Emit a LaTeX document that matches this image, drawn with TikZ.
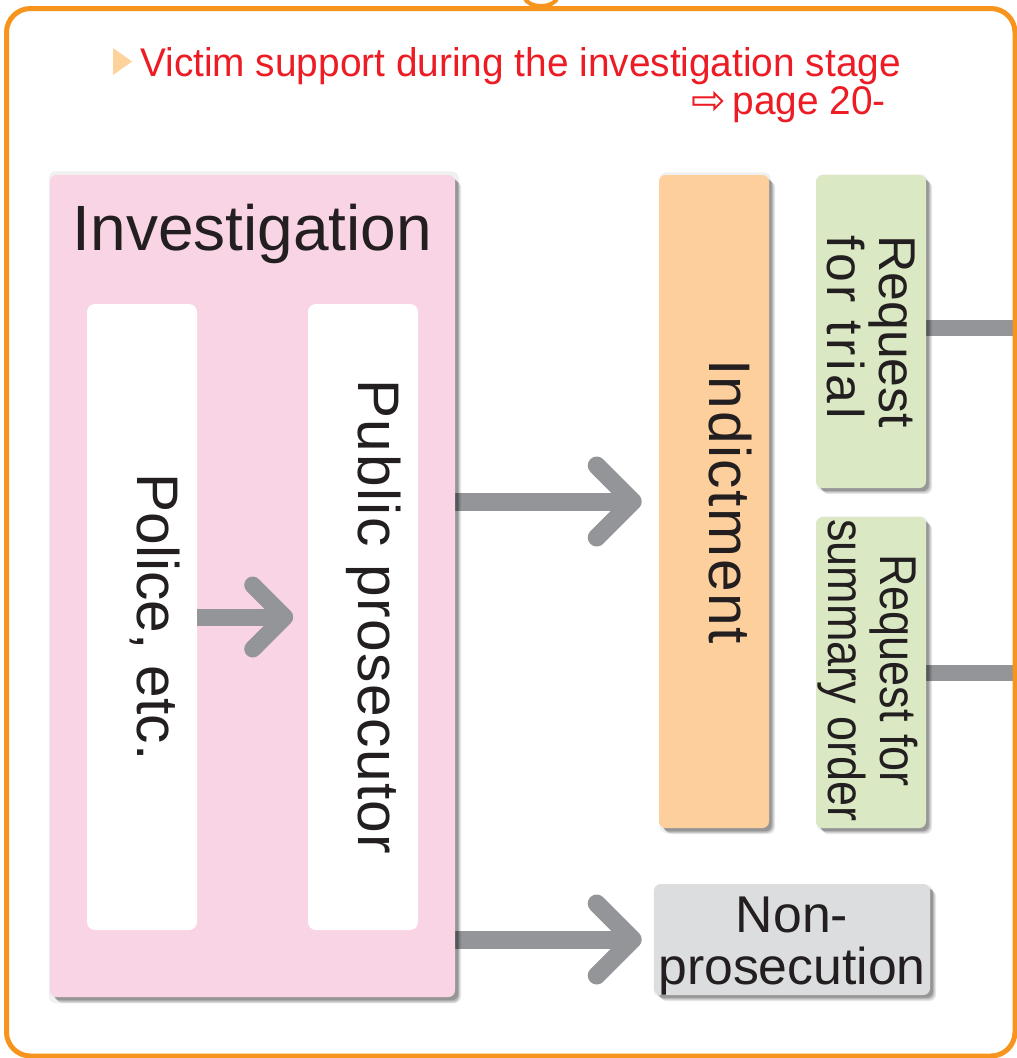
\documentclass[tikz,border=0pt]{standalone}
\usepackage{fontspec}
\setmainfont{Liberation Sans}
\newfontfamily\condfont[FakeStretch=0.97]{Liberation Sans}
\newfontfamily\narrowfont[FakeStretch=0.87]{Liberation Sans}
\newfontfamily\symfont{DejaVu Sans}
\usetikzlibrary{calc,shadows}
\definecolor{pinkbg}{HTML}{F9D4E5}
\definecolor{indorange}{HTML}{FDCF9C}
\definecolor{reqgreen}{HTML}{DAE9C3}
\definecolor{nonpgray}{HTML}{DCDDDE}
\definecolor{arrowgray}{HTML}{939598}
\definecolor{frameorange}{HTML}{F7941E}
\definecolor{hdrred}{HTML}{ED1C24}
\definecolor{trifill}{HTML}{FDD39B}
\definecolor{ink}{HTML}{231F20}
\pgfdeclarelayer{back}
\pgfdeclarelayer{bg}
\pgfsetlayers{back,bg,main}
\newcommand\hugetext{\fontsize{48}{52}\selectfont}
\newcommand\bigtext{\fontsize{44}{48}\selectfont}
\newcommand\midtext{\fontsize{38.8}{39}\selectfont}
\newcommand\hdrtext{\fontsize{30}{34}\selectfont}
\begin{document}
\begin{tikzpicture}[x=0.75pt,y=-0.75pt,
  frame/.style={draw=frameorange, line width=3.75pt, rounded corners=18pt},
  boxshadow/.style={
    drop shadow={shadow xshift=1pt, shadow yshift=-1pt, shadow scale=1.012, fill=black, opacity=0.06},
    drop shadow={shadow xshift=4.5pt, shadow yshift=-4.5pt, fill=black, opacity=0.10},
    drop shadow={shadow xshift=3.5pt, shadow yshift=-3.5pt, fill=black, opacity=0.14},
    drop shadow={shadow xshift=2.5pt, shadow yshift=-2.5pt, fill=black, opacity=0.18}},
  stagebox/.style={rounded corners=5pt, inner sep=0pt, boxshadow},
  whitebox/.style={fill=white, rounded corners=6pt, inner sep=0pt},
  txt/.style={text=ink, inner sep=0pt},
  onetxt/.style={txt, text height=0.72em, text depth=0pt},
  shaft/.style={draw=arrowgray, line width=13.5pt},
  smallshaft/.style={draw=arrowgray, line width=12.75pt},
  chev/.style={draw=arrowgray, line width=13.5pt, line cap=round, line join=round},
  smallchev/.style={draw=arrowgray, line width=12.75pt, line cap=round, line join=round},
  outline/.style={draw=arrowgray, line width=12pt}
]
\useasboundingbox (0,0) rectangle (1017,1058);
\begin{pgfonlayer}{back}
\fill[white] (0,0) rectangle (1017,1058);
\end{pgfonlayer}

% frame
\draw[frame] (6.5,8.5) rectangle (1015,1056);
\draw[draw=frameorange, line width=3pt] (524,-3) .. controls (528,9) and (554,9) .. (558,-3);

% header
\node[anchor=base west, text=hdrred, font=\condfont\hdrtext, inner sep=0pt] (hdr1) at (140,76) {Victim support during the investigation stage};
\fill[trifill] ($(hdr1.base west)+(-27,-28)$) -- ($(hdr1.base west)+(-8,-14.5)$) -- ($(hdr1.base west)+(-27,-1)$) -- cycle;
\node[anchor=base east, text=hdrred, font=\condfont\hdrtext, inner sep=0pt] (hdr2) at (886,114) {\smash{\symfont\fontsize{31}{34}\selectfont ⇨}\,page 20-};

% investigation
\node[stagebox, fill=pinkbg, minimum width=303.75pt, minimum height=616.5pt] (inv) at (252.5,586) {};
\node[txt, font=\hugetext, anchor=base] (invt) at (252.5,250) {Investigation};
\node[whitebox, minimum width=82.5pt, minimum height=469.5pt] (police) at (142,617) {};
\node[onetxt, rotate=-90, font=\bigtext] (policet) at (police.center) {Police, etc.};
\node[whitebox, minimum width=82.5pt, minimum height=469.5pt] (pros) at (363,617) {};
\node[onetxt, rotate=-90, font=\bigtext\addfontfeature{LetterSpace=2.5}] (prost) at (pros.center) {Public prosecutor};

% small arrow
\coordinate (a1) at ($(pros.west)+(-23,0)$);
\draw[smallshaft] (police.east) -- (a1);
\draw[smallchev] ($(a1)+(-32,-32)$) -- (a1) -- ($(a1)+(-32,32)$);

% indictment
\node[stagebox, fill=indorange, minimum width=82.5pt, minimum height=489.75pt] (ind) at (714,501.5) {};
\node[onetxt, rotate=-90, font=\bigtext\addfontfeature{LetterSpace=2.7}] (indt) at (ind.center) {Indictment};

% requests
\node[stagebox, fill=reqgreen, minimum width=82.5pt, minimum height=234.75pt] (trial) at (871,331.5) {};
\node[txt, rotate=-90, font=\midtext, align=left] (trialt) at (trial.center) {Request\\{\addfontfeature{LetterSpace=7}for trial}};
\node[stagebox, fill=reqgreen, minimum width=82.5pt, minimum height=233.25pt] (summ) at (871,672.5) {};
\node[txt, rotate=-90, font=\narrowfont\midtext, align=center] (summt) at ($(summ.center)+(-3,-2)$) {Request for\\summary order};

% non-prosecution
\node[stagebox, fill=nonpgray, minimum width=207pt, minimum height=83.25pt] (nonp) at (792,939.5) {};
\node[txt, font=\midtext, align=center] (nonpt) at ($(nonp.center)+(0,7)$) {Non-\\prosecution};

% big arrows and outgoing lines (behind the boxes)
\coordinate (a2) at ($(ind.west)+(-26,0)$);
\coordinate (a3) at ($(nonp.west)+(-21,0)$);
\coordinate (rightedge) at (1017,0);
\begin{pgfonlayer}{bg}
\draw[shaft] (inv.east |- a2) -- (a2);
\draw[chev] ($(a2)+(-36,-36)$) -- (a2) -- ($(a2)+(-36,36)$);
\draw[shaft] (inv.east |- a3) -- (a3);
\draw[chev] ($(a3)+(-36,-36)$) -- (a3) -- ($(a3)+(-36,36)$);
\draw[outline] ($(trial.east)+(0,-4)$) -- ($(trial.east -| rightedge)+(0,-4)$);
\draw[outline] (summ.east) -- (summ.east -| rightedge);
\end{pgfonlayer}
\end{tikzpicture}
\end{document}
